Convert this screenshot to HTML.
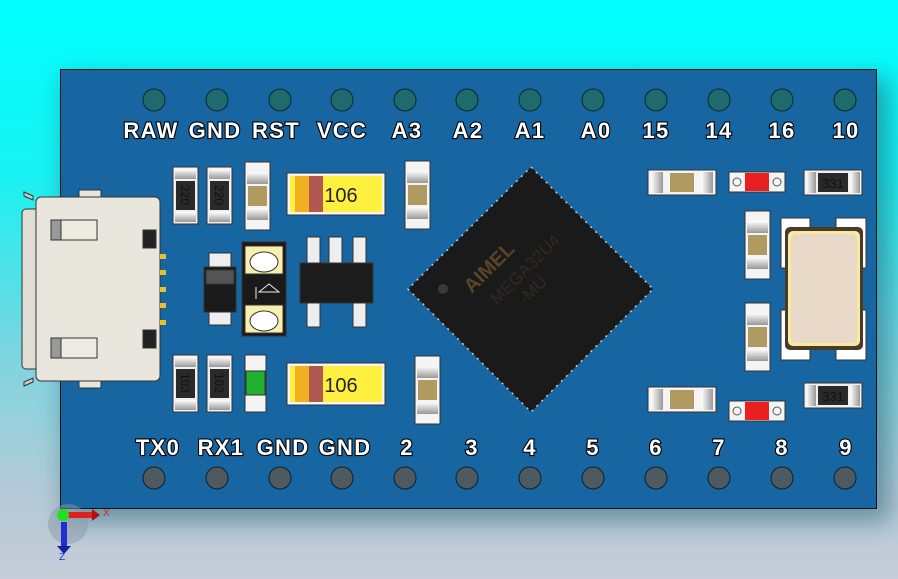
<!DOCTYPE html>
<html><head><meta charset="utf-8"><style>
html,body{margin:0;padding:0;width:898px;height:579px;overflow:hidden}
svg{display:block}
.l{font-family:"Liberation Sans",Arial,sans-serif;font-weight:bold;font-size:22px;letter-spacing:1.3px;fill:#fff;stroke:#000;stroke-width:2.2px;paint-order:stroke;text-anchor:middle}
.r{font-family:"Liberation Sans",sans-serif;font-size:12px;fill:#111;text-anchor:middle}
</style></head><body>
<svg width="898" height="579" viewBox="0 0 898 579" xmlns="http://www.w3.org/2000/svg">
<defs>
<linearGradient id="bg" x1="0" y1="0" x2="0" y2="1">
<stop offset="0" stop-color="#00ffff"/><stop offset="0.3" stop-color="#18f2f2"/><stop offset="0.6" stop-color="#78d6e0"/><stop offset="0.85" stop-color="#b4cad6"/><stop offset="1" stop-color="#c6ccd8"/>
</linearGradient>
<filter id="sh" x="-10%" y="-10%" width="120%" height="130%"><feGaussianBlur stdDeviation="12"/></filter>
<linearGradient id="pad" x1="0" y1="0" x2="0" y2="1"><stop offset="0" stop-color="#fff"/><stop offset="1" stop-color="#999"/></linearGradient>
<linearGradient id="padh" x1="0" y1="0" x2="1" y2="0"><stop offset="0" stop-color="#fff"/><stop offset="1" stop-color="#999"/></linearGradient>
<g id="vcap"><rect x="0" y="0" width="25" height="68" fill="#f4f4f4" stroke="#333" stroke-width="1"/><rect x="2" y="10" width="21" height="12" fill="url(#pad)"/><rect x="2" y="46" width="21" height="12" fill="url(#pad)"/><rect x="3" y="24" width="19" height="20" fill="#b09a60"/></g>
<g id="hcap"><rect x="0" y="0" width="68" height="25" fill="#f4f4f4" stroke="#333" stroke-width="1"/><rect x="3" y="2" width="12" height="21" fill="url(#padh)"/><rect x="53" y="2" width="12" height="21" fill="url(#padh)"/><rect x="22" y="3" width="24" height="19" fill="#b09a60"/></g>
<g id="vres"><rect x="0" y="0" width="25" height="57" fill="#f0f0f0" stroke="#333" stroke-width="1"/><rect x="2" y="2" width="21" height="10" fill="url(#pad)"/><rect x="2" y="45" width="21" height="10" fill="url(#pad)"/><rect x="3" y="14" width="19" height="29" fill="#2a2a2a"/></g>
<g id="hres"><rect x="0" y="0" width="58" height="25" fill="#f0f0f0" stroke="#333" stroke-width="1"/><rect x="2" y="2" width="10" height="21" fill="url(#padh)"/><rect x="46" y="2" width="10" height="21" fill="url(#padh)"/><rect x="14" y="3" width="30" height="19" fill="#2a2a2a"/><text x="29" y="18" font-family="Liberation Sans,sans-serif" font-size="13" fill="#111" text-anchor="middle">331</text></g>
<g id="led"><rect x="0" y="0" width="56" height="20" fill="#f4f4f4" stroke="#333"/><rect x="16" y="1" width="24" height="18" fill="#e82020"/><circle cx="8" cy="10" r="4" fill="none" stroke="#555"/><circle cx="48" cy="10" r="4" fill="none" stroke="#555"/></g>
<g id="tant"><rect x="0" y="0" width="98" height="42" fill="#f4f4f4" stroke="#333"/><rect x="3" y="3" width="92" height="36" fill="#fff040"/><rect x="8" y="3" width="14" height="36" fill="#f0b020"/><rect x="22" y="3" width="14" height="36" fill="#b05850"/><text x="54" y="29" font-family="Liberation Sans,sans-serif" font-size="20" fill="#222" text-anchor="middle">106</text></g>
</defs>
<rect width="898" height="579" fill="url(#bg)"/>
<rect x="64" y="78" width="826" height="444" fill="#1a5a70" opacity="0.5" filter="url(#sh)"/>
<rect x="60.5" y="69.5" width="816" height="439" fill="#1765a1" stroke="#111" stroke-width="1"/>
<g fill="#1e6a6c" stroke="#0a2a30" stroke-width="1">
<circle cx="154" cy="100" r="11"/><circle cx="217" cy="100" r="11"/><circle cx="280" cy="100" r="11"/><circle cx="342" cy="100" r="11"/><circle cx="405" cy="100" r="11"/><circle cx="467" cy="100" r="11"/><circle cx="530" cy="100" r="11"/><circle cx="593" cy="100" r="11"/><circle cx="656" cy="100" r="11"/><circle cx="719" cy="100" r="11"/><circle cx="782" cy="100" r="11"/><circle cx="845" cy="100" r="11"/>
</g>
<g fill="#4e5a60" stroke="#0a2030" stroke-width="1">
<circle cx="154" cy="478" r="11"/><circle cx="217" cy="478" r="11"/><circle cx="280" cy="478" r="11"/><circle cx="342" cy="478" r="11"/><circle cx="405" cy="478" r="11"/><circle cx="467" cy="478" r="11"/><circle cx="530" cy="478" r="11"/><circle cx="593" cy="478" r="11"/><circle cx="656" cy="478" r="11"/><circle cx="719" cy="478" r="11"/><circle cx="782" cy="478" r="11"/><circle cx="845" cy="478" r="11"/>
</g>
<g class="l">
<text x="151" y="138">RAW</text><text x="215" y="138">GND</text><text x="276" y="138">RST</text><text x="342" y="138">VCC</text><text x="407" y="138">A3</text><text x="468" y="138">A2</text><text x="530" y="138">A1</text><text x="596" y="138">A0</text><text x="656" y="138">15</text><text x="719" y="138">14</text><text x="782" y="138">16</text><text x="846" y="138">10</text>
<text x="158" y="455">TX0</text><text x="221" y="455">RX1</text><text x="283" y="455">GND</text><text x="345" y="455">GND</text><text x="407" y="455">2</text><text x="472" y="455">3</text><text x="530" y="455">4</text><text x="593" y="455">5</text><text x="656" y="455">6</text><text x="719" y="455">7</text><text x="782" y="455">8</text><text x="846" y="455">9</text>
</g>
<g stroke="#333" stroke-width="1">
<rect x="79" y="190" width="22" height="10" fill="#e8e6dc"/><rect x="79" y="378" width="22" height="10" fill="#e8e6dc"/>
<path d="M24 192 L33 196 L33 200 L24 196Z" fill="#ccc"/><path d="M24 386 L33 382 L33 378 L24 382Z" fill="#ccc"/>
<rect x="22" y="209" width="18" height="160" rx="4" fill="#e0ded4"/>
<rect x="36" y="197" width="124" height="184" rx="5" fill="#e9e7dd"/>
<rect x="51" y="220" width="46" height="20" fill="#eeece2"/><rect x="51" y="220" width="10" height="20" fill="#999"/>
<rect x="51" y="338" width="46" height="20" fill="#eeece2"/><rect x="51" y="338" width="10" height="20" fill="#999"/>
<rect x="143" y="230" width="13" height="18" fill="#222"/><rect x="143" y="330" width="13" height="18" fill="#222"/>
</g>
<g fill="#e8c030"><rect x="160" y="254" width="6" height="5"/><rect x="160" y="270" width="6" height="5"/><rect x="160" y="287" width="6" height="5"/><rect x="160" y="303" width="6" height="5"/><rect x="160" y="320" width="6" height="5"/></g>
<use href="#vres" x="173" y="167"/><use href="#vres" x="207" y="167"/>
<use href="#vres" x="173" y="355"/><use href="#vres" x="207" y="355"/>
<text class="r" transform="translate(181,195) rotate(90)">220</text>
<text class="r" transform="translate(215,195) rotate(90)">220</text>
<text class="r" transform="translate(181,383) rotate(90)">103</text>
<text class="r" transform="translate(215,383) rotate(90)">102</text>
<use href="#vcap" x="245" y="162"/><use href="#vcap" x="405" y="161"/><use href="#vcap" x="415" y="356"/>
<use href="#tant" x="287" y="173"/><use href="#tant" x="287" y="363"/>
<g stroke="#333"><rect x="245" y="355" width="21" height="57" fill="#f4f4f4"/><rect x="246" y="371" width="19" height="24" fill="#20b030"/></g>
<g stroke="#333"><rect x="209" y="253" width="22" height="72" fill="#eee"/><rect x="204" y="267" width="32" height="45" fill="#1a1a1a"/><rect x="206" y="270" width="28" height="14" fill="#555"/></g>
<g stroke="#333"><rect x="242" y="242" width="44" height="94" fill="#1a1a1a"/><rect x="245" y="246" width="38" height="28" fill="#f8f0b0"/><rect x="245" y="305" width="38" height="28" fill="#f8f0b0"/><ellipse cx="264" cy="262" rx="14" ry="10" fill="#fff"/><ellipse cx="264" cy="321" rx="14" ry="10" fill="#fff"/><path d="M256 287 v12 M259 292 h20 l-10 -8 z" stroke="#eee" fill="none"/></g>
<g stroke="#333"><rect x="307" y="237" width="13" height="28" fill="#eee"/><rect x="329" y="237" width="13" height="28" fill="#eee"/><rect x="353" y="237" width="13" height="28" fill="#eee"/><rect x="307" y="302" width="13" height="25" fill="#eee"/><rect x="353" y="302" width="13" height="25" fill="#eee"/><rect x="300" y="263" width="73" height="40" fill="#1c1c1c"/></g>
<polygon points="531,167 653,289 531,412 408,289" fill="#1a1a1a" stroke="#ccc" stroke-width="1.5" stroke-dasharray="2 5"/>
<polygon points="531,169 651,289 531,410 410,289" fill="#1a1a1a"/>
<circle cx="443" cy="289" r="5" fill="#3a3a3a"/>
<g transform="translate(505,292) rotate(-45)" font-family="Liberation Sans,sans-serif">
<text x="-25" y="-22" font-size="20" font-weight="bold" fill="#5a4428">AIMEL</text>
<text x="-15" y="4" font-size="17" fill="#2e2a24">MEGA32U4</text>
<text x="5" y="24" font-size="17" fill="#2e2a24">-MU</text>
</g>
<use href="#hcap" x="648" y="170"/><use href="#hcap" x="648" y="387"/>
<use href="#led" x="729" y="172"/><use href="#led" x="729" y="401"/>
<use href="#hres" x="804" y="170"/><use href="#hres" x="804" y="383"/>
<use href="#vcap" x="745" y="211"/><use href="#vcap" x="745" y="303"/>
<g fill="#fff" stroke="#333"><rect x="781" y="218" width="29" height="50"/><rect x="836" y="218" width="30" height="50"/><rect x="781" y="310" width="29" height="50"/><rect x="836" y="310" width="30" height="50"/></g>
<rect x="785" y="227" width="78" height="123" rx="5" fill="#4a3a28"/>
<rect x="788" y="231" width="72" height="115" rx="5" fill="#f8e8a0"/>
<rect x="791" y="234" width="66" height="109" rx="5" fill="#e8d8c8"/>
<circle cx="68" cy="524" r="20" fill="#8a9aa8" opacity="0.5"/>
<rect x="61" y="522" width="6" height="26" fill="#2030d0"/><path d="M57 546 h14 l-7 8z" fill="#1020a0"/>
<rect x="64" y="512" width="30" height="6" fill="#e02020"/><path d="M92 509 l8 6 l-8 6z" fill="#b01010"/>
<circle cx="63" cy="515" r="6" fill="#20e020"/>
<text x="103" y="516" font-family="Liberation Sans,sans-serif" font-size="10" fill="#e02020">X</text>
<text x="59" y="560" font-family="Liberation Sans,sans-serif" font-size="10" fill="#2030d0">Z</text>
</svg>
</body></html>
